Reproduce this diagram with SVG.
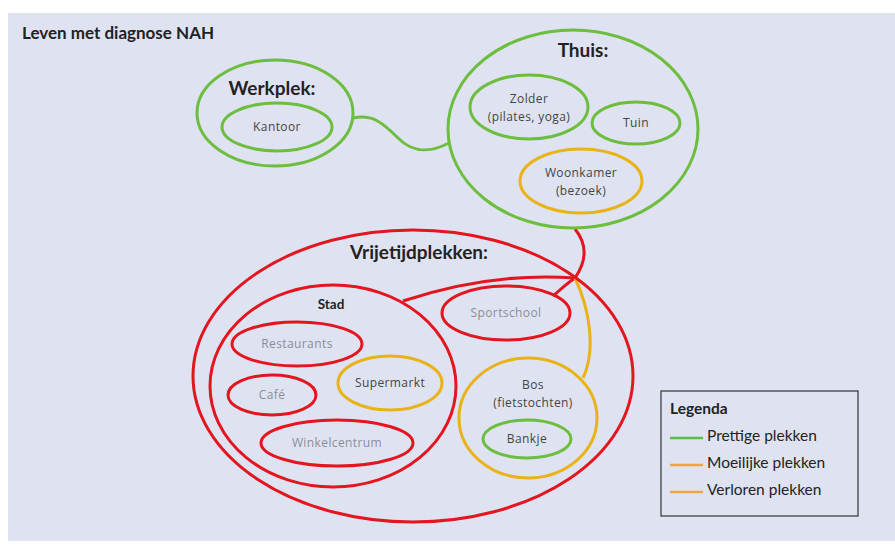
<svg xmlns="http://www.w3.org/2000/svg" width="895" height="547" viewBox="0 0 895 547">
<style>
.g{fill:none;stroke:#6dbd3f;stroke-width:3}
.r{fill:none;stroke:#e3151f;stroke-width:3}
.o{fill:none;stroke:#e9b217;stroke-width:3}
.h{font-family:Lato,"Open Sans",sans-serif;font-weight:bold;fill:#222;text-anchor:middle}
.t{font-family:"Open Sans","Liberation Sans",sans-serif;font-size:12px;letter-spacing:0.4px;fill:#444;text-anchor:middle}
.tg{font-family:"Open Sans","Liberation Sans",sans-serif;font-size:12px;letter-spacing:0.4px;fill:#8a8e98;text-anchor:middle}
.l{font-family:Lato,"Open Sans",sans-serif;font-size:15.5px;fill:#222}
</style>
<rect width="895" height="547" fill="#ffffff"/>
<rect x="8" y="13" width="887" height="528" fill="#dfe3f1"/>
<text x="22" y="39" font-family="Lato,'Open Sans',sans-serif" font-weight="bold" font-size="17" fill="#222">Leven met diagnose NAH</text>

<g id="connectors">
<path class="g" d="M353,118 C372,114 382,122 398,138 C412,152 428,154 449,143"/>
<path class="r" d="M575,229 C588,245 586,262 575,278"/>
<path class="r" d="M575,278 C520,274 460,282 403,301"/>
<path class="r" d="M575,278 C566,284 560,290 553,296"/>
<path class="o" d="M575,278 C590,310 596,350 583,378"/>
</g>

<g id="werkplek">
<ellipse class="g" cx="275" cy="113" rx="78" ry="53"/>
<text class="h" x="272" y="95" font-size="19">Werkplek:</text>
</g>
<g id="kantoor">
<ellipse class="g" cx="277" cy="127" rx="55" ry="24"/>
<text class="t" x="277" y="131">Kantoor</text>
</g>

<g id="thuis">
<ellipse class="g" cx="573" cy="129" rx="125" ry="99"/>
<text class="h" x="583" y="57" font-size="19">Thuis:</text>
</g>
<g id="zolder">
<ellipse class="g" cx="529" cy="107" rx="59" ry="32"/>
<text class="t" x="529" y="103">Zolder</text>
<text class="t" x="529" y="121">(pilates, yoga)</text>
</g>
<g id="tuin">
<ellipse class="g" cx="636" cy="123" rx="44" ry="21"/>
<text class="t" x="636" y="127">Tuin</text>
</g>
<g id="woonkamer">
<ellipse class="o" cx="581" cy="181" rx="61" ry="32"/>
<text class="t" x="581" y="177">Woonkamer</text>
<text class="t" x="581" y="195">(bezoek)</text>
</g>

<g id="vrijetijdplekken">
<ellipse class="r" cx="413" cy="376" rx="220" ry="146"/>
<text class="h" x="419" y="259" font-size="19">Vrijetijdplekken:</text>
</g>
<g id="stad">
<ellipse class="r" cx="333" cy="386" rx="123" ry="101"/>
<text class="h" x="331" y="309" font-size="13.5">Stad</text>
</g>
<g id="restaurants">
<ellipse class="r" cx="297" cy="344" rx="65" ry="22"/>
<text class="tg" x="297" y="348">Restaurants</text>
</g>
<g id="supermarkt">
<ellipse class="o" cx="390" cy="383" rx="52" ry="27"/>
<text class="t" x="390" y="387">Supermarkt</text>
</g>
<g id="cafe">
<ellipse class="r" cx="272" cy="395" rx="44" ry="20"/>
<text class="tg" x="272" y="399">Café</text>
</g>
<g id="winkelcentrum">
<ellipse class="r" cx="337" cy="443" rx="76" ry="23"/>
<text class="tg" x="337" y="447">Winkelcentrum</text>
</g>
<g id="sportschool">
<ellipse class="r" cx="506" cy="313" rx="64" ry="27"/>
<text class="tg" x="506" y="317">Sportschool</text>
</g>
<g id="bos">
<ellipse class="o" cx="528" cy="418" rx="69" ry="60"/>
<text class="t" x="533" y="389">Bos</text>
<text class="t" x="533" y="407">(fietstochten)</text>
</g>
<g id="bankje">
<ellipse class="g" cx="527" cy="439" rx="44" ry="19"/>
<text class="t" x="527" y="443">Bankje</text>
</g>

<g id="legenda">
<rect x="661" y="391" width="197" height="125" fill="none" stroke="#333" stroke-width="1.2"/>
<text x="670" y="414" font-family="Lato,'Open Sans',sans-serif" font-weight="bold" font-size="15.5" fill="#222">Legenda</text>
<line x1="670" y1="438" x2="703" y2="438" stroke="#5cbf45" stroke-width="2.5"/>
<text class="l" x="707" y="441">Prettige plekken</text>
<line x1="670" y1="465" x2="703" y2="465" stroke="#eea640" stroke-width="2.5"/>
<text class="l" x="707" y="468">Moeilijke plekken</text>
<line x1="670" y1="492" x2="703" y2="492" stroke="#eea640" stroke-width="2.5"/>
<text class="l" x="707" y="495">Verloren plekken</text>
</g>
</svg>
